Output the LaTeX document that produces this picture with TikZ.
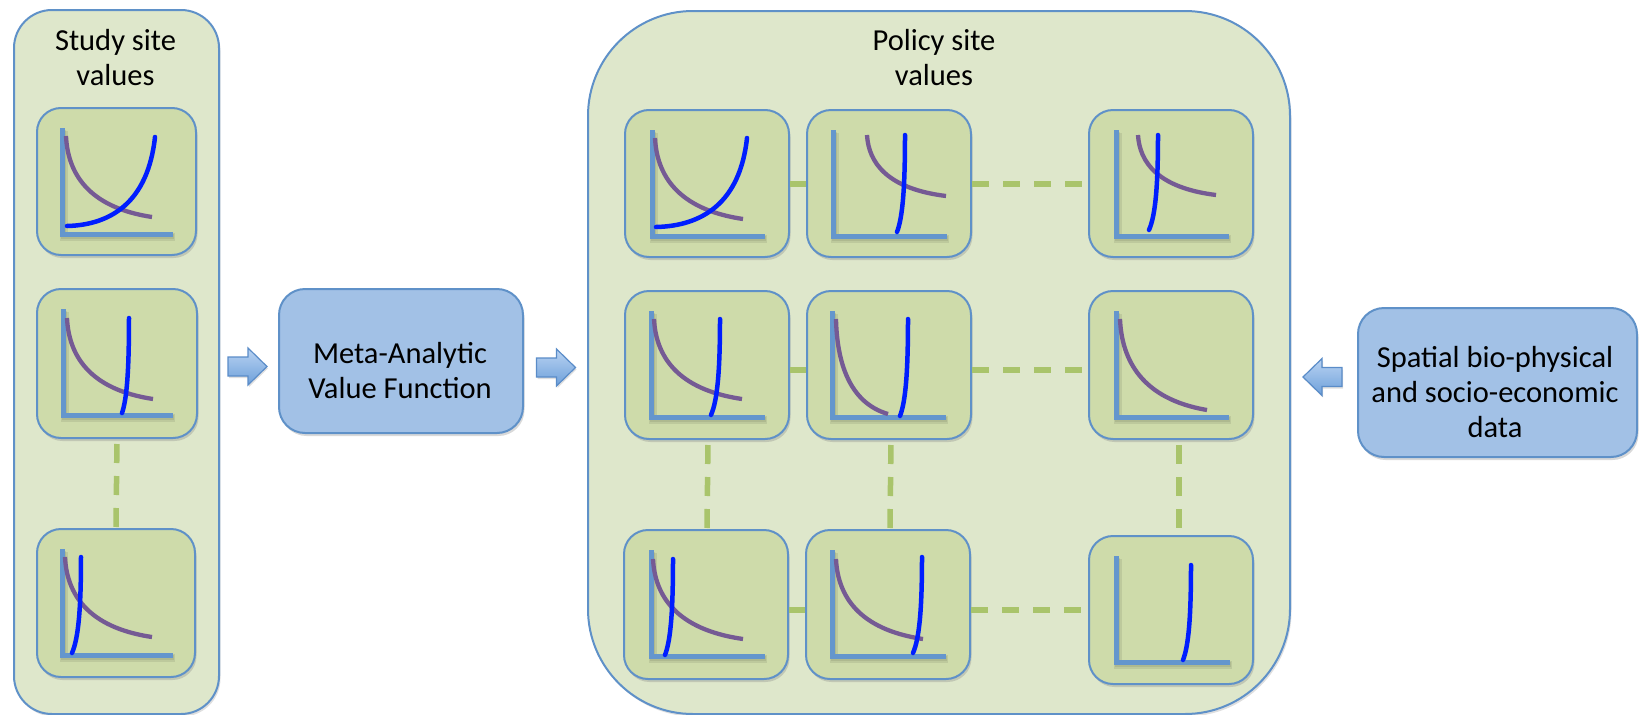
\documentclass[tikz,border=0pt]{standalone}
\usepackage{fontspec}
\setmainfont{Carlito}
\usetikzlibrary{shadows,calc}
\definecolor{panelfill}{RGB}{222,231,203}
\definecolor{chartfill}{RGB}{206,219,170}
\definecolor{bordercol}{RGB}{95,145,200}
\definecolor{axiscol}{RGB}{100,150,205}
\definecolor{purplecol}{RGB}{117,90,148}
\definecolor{supblue}{RGB}{0,30,255}
\definecolor{bluefill}{RGB}{162,193,230}
\definecolor{linkgreen}{RGB}{169,196,107}
\definecolor{arrowtop}{RGB}{185,211,242}
\definecolor{arrowbot}{RGB}{110,160,218}
\definecolor{arrowborder}{RGB}{90,140,200}
\newcommand\chartaxes[2]{%
  \draw[axshadow,line width=8pt,shift={(1.5,3)}] (#1,21) -- (#1,127) -- (#2,127);
  \draw[axshadow,shift={(1,2)}] (#1,21) -- (#1,127) -- (#2,127);
  \draw[axis] (#1,21) -- (#1,127) -- (#2,127);}
\begin{document}
\begin{tikzpicture}[x=1pt,y=-1pt,
  panel/.style={draw=bordercol, line width=2pt, fill=panelfill, anchor=north west, inner sep=0pt,
    drop shadow={opacity=0.25,shadow xshift=1.5pt,shadow yshift=-2.5pt}},
  chartbox/.style={draw=bordercol, line width=2pt, fill=chartfill, rounded corners=24pt,
    anchor=north west, inner sep=0pt, minimum width=164pt, minimum height=147pt,
    drop shadow={opacity=0.3,shadow xshift=1.5pt,shadow yshift=-3pt}},
  bluebox/.style={draw=bordercol, line width=2pt, fill=bluefill, rounded corners=26pt,
    anchor=north west, inner sep=0pt,
    drop shadow={opacity=0.3,shadow xshift=1.5pt,shadow yshift=-3pt}},
  lbl/.style={font=\fontsize{30.5}{35}\selectfont, align=center, inner sep=0pt},
  link/.style={draw=linkgreen, line width=6pt},
  hlink/.style={link, dash pattern=on 17pt off 14pt},
  vlink/.style={link, line width=5.5pt, dash pattern=on 19pt off 13pt, dash phase=27pt},
  axis/.style={draw=axiscol, line width=5pt},
  axshadow/.style={draw=black, opacity=0.08, line width=5pt},
  dem/.style={draw=purplecol, line width=4.3pt},
  sup/.style={draw=supblue, line width=4.5pt, line cap=round},
  barrow/.style={draw=arrowborder, line width=1.2pt, top color=arrowtop, bottom color=arrowbot,
    drop shadow={opacity=0.25,shadow xshift=1pt,shadow yshift=-2pt}}
]
\useasboundingbox (0,0) rectangle (1639,715);
% panels
\node[panel, rounded corners=38pt, minimum width=205pt, minimum height=704pt] (study) at (13,9) {};
\node[panel, rounded corners=105pt, minimum width=702pt, minimum height=703pt] (policy) at (587,10) {};
\node[lbl] (studyt) at (115.5,58) {Study site\\values};
\node[lbl] (policyt) at (934,58) {Policy site\\values};
% blue boxes
\node[bluebox, minimum width=244pt, minimum height=144pt] (mavf) at (278,288) {};
\node[lbl] (mavft) at (400,370.5) {Meta-Analytic\\Value Function};
\node[bluebox, minimum width=279pt, minimum height=149pt] (spatial) at (1357,307) {};
\node[lbl] (spatialt) at (1495,392) {Spatial bio-physical\\and socio-economic\\data};
% chart boxes
\node[chartbox, minimum width=159pt] (L1) at (36,107) {};
\node[chartbox, minimum width=160pt, minimum height=149pt] (L2) at (36,288) {};
\node[chartbox, minimum width=158pt, minimum height=148pt] (L3) at (36,528) {};
\node[chartbox] (P11) at (624,109) {};
\node[chartbox] (P12) at (806,109) {};
\node[chartbox] (P13) at (1088,109) {};
\node[chartbox, minimum height=148pt] (P21) at (624,290) {};
\node[chartbox, minimum height=148pt] (P22) at (806,290) {};
\node[chartbox, minimum height=148pt] (P23) at (1088,290) {};
\node[chartbox, minimum height=149pt] (P31) at (623,529) {};
\node[chartbox, minimum height=149pt] (P32) at (805,529) {};
\node[chartbox, minimum height=148pt] (P33) at (1088,535) {};
% connectors
\draw[hlink] (P11.east) -- (P12.west);
\draw[hlink] (P12.east) -- (P13.west);
\draw[hlink] ([yshift=-5pt]P21.east) -- ([yshift=-5pt]P22.west);
\draw[hlink] ([yshift=-5pt]P22.east) -- ([yshift=-5pt]P23.west);
\draw[hlink] (P31.east |- P33.west) -- (P32.west |- P33.west);
\draw[hlink] (P32.east |- P33.west) -- (P33.west);
\draw[vlink] (L2.south) -- (L3.north);
\draw[vlink] ([xshift=1pt]P21.south) -- ([xshift=1pt]P31.north);
\draw[vlink] ([xshift=2pt]P22.south) -- ([xshift=2pt]P32.north);
\draw[vlink] ([xshift=8pt]P23.south) -- ([xshift=8pt]P33.north);
% block arrows
\coordinate (a1) at (247.5,366.5);
\coordinate (a2) at (556,367.5);
\coordinate (a3) at (1322.5,377);
\begin{scope}[shift={(a1)}]
\draw[barrow] (-19.5,-9.5) -- (0.5,-9.5) -- (0.5,-18.5) -- (19.5,0) -- (0.5,18.5) -- (0.5,9.5) -- (-19.5,9.5) -- cycle;
\end{scope}
\begin{scope}[shift={(a2)}]
\draw[barrow] (-19.5,-9.5) -- (0.5,-9.5) -- (0.5,-18.5) -- (19.5,0) -- (0.5,18.5) -- (0.5,9.5) -- (-19.5,9.5) -- cycle;
\end{scope}
\begin{scope}[shift={(a3)},xscale=-1]
\draw[barrow] (-19.5,-9.5) -- (0.5,-9.5) -- (0.5,-18.5) -- (19.5,0) -- (0.5,18.5) -- (0.5,9.5) -- (-19.5,9.5) -- cycle;
\end{scope}
% chart contents
\begin{scope}[shift={(L1.north west)}]
\chartaxes{26}{137}
\draw[dem] (30,29) .. controls (31.7,65.5) and (51.5,100.3) .. (116,110);
\draw[sup] (31,119) .. controls (75,118) and (112,95) .. (119,30);
\end{scope}
\begin{scope}[shift={(L2.north west)}]
\chartaxes{27}{137}
\draw[dem] (31,30) .. controls (32.7,66.5) and (52.5,101.3) .. (117,111);
\draw[sup] (86,125) .. controls (90.9,110.8) and (93,82.3) .. (93,30);
\end{scope}
\begin{scope}[shift={(L3.north west)}]
\chartaxes{26}{137}
\draw[dem] (29,29) .. controls (30.7,65) and (50.8,99.4) .. (116,109);
\draw[sup] (36,125) .. controls (42.3,110.6) and (45,81.8) .. (45,29);
\end{scope}
\begin{scope}[shift={(P11.north west)}]
\chartaxes{28}{141}
\draw[dem] (31,29) .. controls (32.8,65.5) and (53,100.3) .. (119,110);
\draw[sup] (32,118) .. controls (78,117) and (116,94) .. (123,29);
\end{scope}
\begin{scope}[shift={(P12.north west)}]
\chartaxes{27}{141}
\draw[dem] (61,26) .. controls (62.6,53.5) and (80.8,79.7) .. (140,87);
\draw[sup] (91,123) .. controls (96.6,108.5) and (99,79.4) .. (99,26);
\end{scope}
\begin{scope}[shift={(P13.north west)}]
\chartaxes{28}{141}
\draw[dem] (50,26) .. controls (51.6,53) and (69.5,78.8) .. (128,86);
\draw[sup] (61,121) .. controls (67.3,106.8) and (70,78.3) .. (70,26);
\end{scope}
\begin{scope}[shift={(P21.north west)}]
\chartaxes{27}{141}
\draw[dem] (30,29) .. controls (31.8,65) and (52,99.4) .. (118,109);
\draw[sup] (87,125) .. controls (93.3,110.6) and (96,81.8) .. (96,29);
\end{scope}
\begin{scope}[shift={(P22.north west)}]
\chartaxes{26}{140}
\draw[dem] (30,29) .. controls (31,71.8) and (43,112.6) .. (82,124);
\draw[sup] (94,126) .. controls (99.6,111.5) and (102,82.4) .. (102,29);
\end{scope}
\begin{scope}[shift={(P23.north west)}]
\chartaxes{28}{141}
\draw[dem] (32,29) .. controls (33.7,70) and (53.8,109) .. (119,120);
\end{scope}
\begin{scope}[shift={(P31.north west)}]
\chartaxes{28}{142}
\draw[dem] (30,30) .. controls (31.8,66) and (52.5,100.4) .. (120,110);
\draw[sup] (42,126) .. controls (47.6,111.6) and (50,82.8) .. (50,30);
\end{scope}
\begin{scope}[shift={(P32.north west)}]
\chartaxes{27}{141}
\draw[dem] (31,30) .. controls (32.7,66) and (52.8,100.4) .. (118,110);
\draw[sup] (108,124) .. controls (114.3,109.6) and (117,80.8) .. (117,28);
\end{scope}
\begin{scope}[shift={(P33.north west)}]
\chartaxes{28}{142}
\draw[sup] (95,125) .. controls (100.6,110.8) and (103,82.3) .. (103,30);
\end{scope}
\end{tikzpicture}
\end{document}
